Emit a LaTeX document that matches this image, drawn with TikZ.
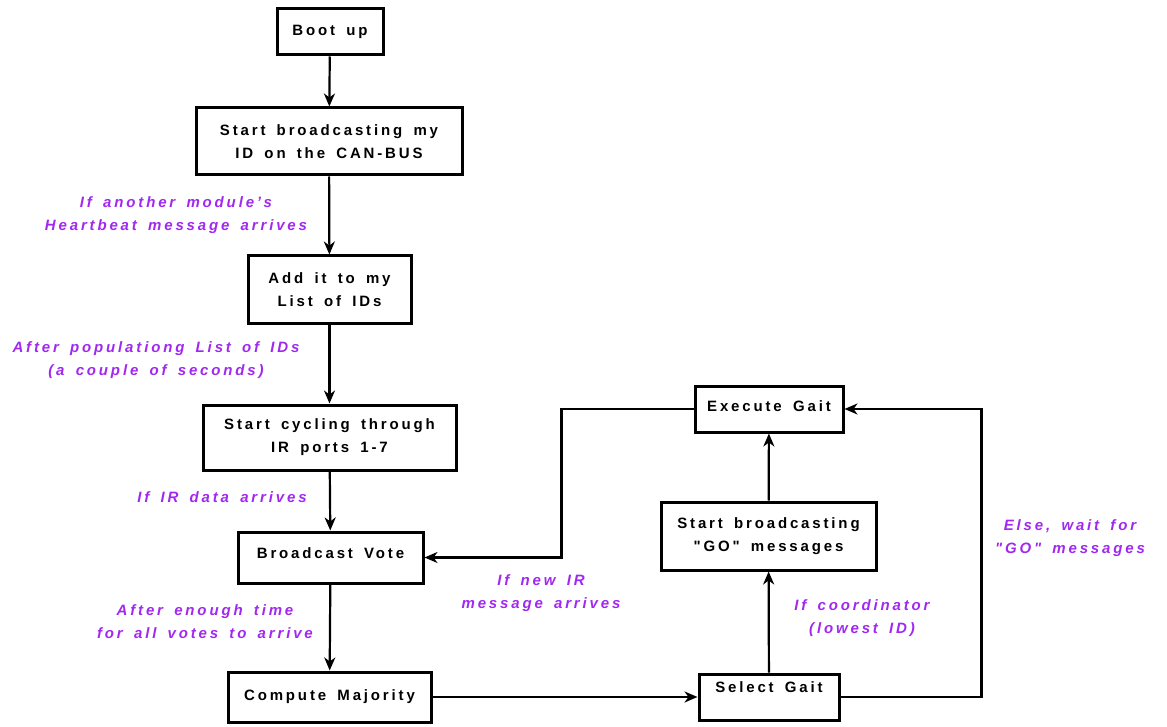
\documentclass[tikz,border=0pt]{standalone}
\usepackage{fontspec}
\setmainfont{Liberation Sans}[Ligatures=TeXOff,LetterSpace=19,WordSpace=1.6]
\usetikzlibrary{arrows.meta}
\definecolor{lab}{RGB}{160,40,240}
\tikzset{
  box/.style={draw, line width=3pt, inner sep=0pt, align=center, font=\fontsize{15}{23}\selectfont\bfseries},
  lbl/.style={text=lab, inner sep=0pt, align=center, font=\fontsize{15}{23}\selectfont\bfseries\itshape},
  arr/.style={line width=2.2pt, -{Stealth[length=13pt,width=11pt,inset=4pt]}}
}
\begin{document}
\begin{tikzpicture}[x=1pt,y=-1pt]
\useasboundingbox (0,0) rectangle (1167,727);
\node[box, minimum width=106pt, minimum height=46pt] (boot) at (330,32) {Boot up};
\node[box, minimum width=266pt, minimum height=67pt] (bcast) at (329,141.5) {Start broadcasting my\\ID on the CAN-BUS};
\node[box, minimum width=163pt, minimum height=67pt] (add) at (329.5,289.5) {Add it to my\\List of IDs};
\node[box, minimum width=253pt, minimum height=65pt] (cycle) at (329.5,437.5) {Start cycling through\\IR ports 1-7};
\node[box, minimum width=185pt, text height=26.5pt, text depth=24.5pt] (vote) at (330.5,557.5) {Broadcast Vote};
\node[box, minimum width=203pt, text height=28.5pt, text depth=21.5pt] (maj) at (329.5,697) {Compute Majority};
\node[box, minimum width=140pt, text height=18.5pt, text depth=27.5pt] (sel) at (769,697) {Select Gait};
\node[box, minimum width=215pt, minimum height=68pt] (sgo) at (768.5,536) {Start broadcasting\\"GO" messages};
\node[box, minimum width=148pt, text height=25.5pt, text depth=20.5pt] (exec) at (769,409) {Execute Gait};

\draw[arr] (boot) -- (bcast);
\draw[arr] (bcast) -- (add);
\draw[arr] (add) -- (cycle);
\draw[arr] (cycle) -- (vote);
\draw[arr] (vote) -- (maj);
\draw[arr] (maj.east) -- (sel.west);
\draw[arr] (sel) -- (sgo);
\draw[arr] (sgo) -- (exec);
\draw[arr] (exec.west) -- ++(-132,0) |- (vote.east);
\draw[arr] (sel.east) -- ++(141,0) |- (exec.east);

\node[lbl] (l1) at (176,215) {If another module’s\\Heartbeat message arrives};
\node[lbl] (l2) at (156,360) {After populationg List of IDs\\(a couple of seconds)};
\node[lbl] (l3) at (222,497) {If IR data arrives};
\node[lbl] (l4) at (205,621.5) {After enough time\\for all votes to arrive};
\node[lbl] (l5) at (541,593.5) {If new IR\\message arrives};
\node[lbl] (l6) at (862,618.5) {If coordinator\\(lowest ID)};
\node[lbl] (l7) at (1070,538.5) {Else, wait for\\"GO" messages};
\end{tikzpicture}
\end{document}
